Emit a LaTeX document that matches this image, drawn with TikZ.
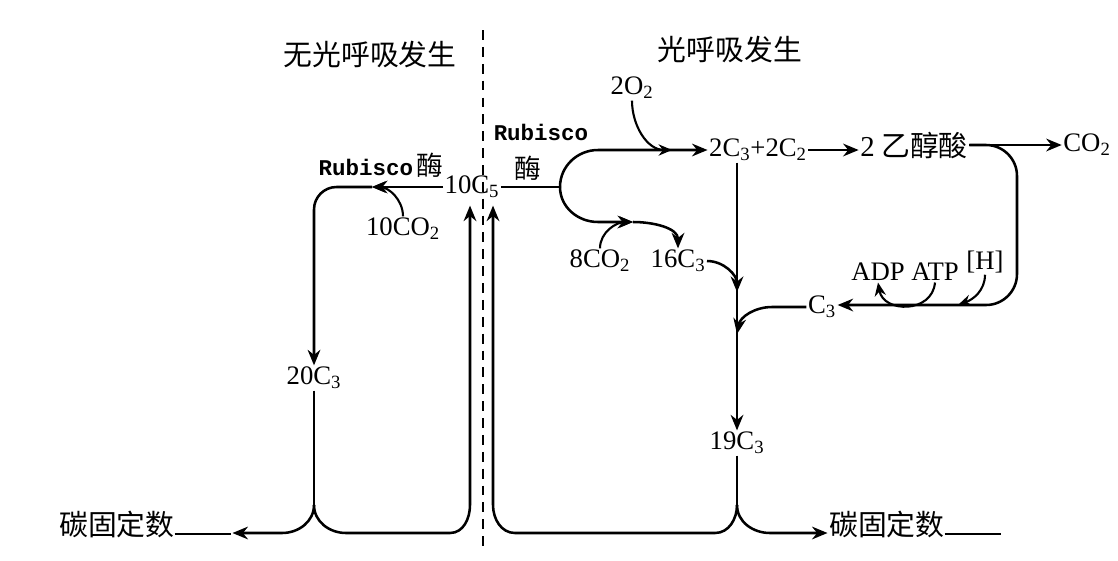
\documentclass[tikz,border=0pt]{standalone}
\usepackage{fontspec}
\setmainfont{Liberation Serif}
\newfontfamily\cjk{Noto Sans CJK SC}
\newfontfamily\rubfont{Liberation Mono}
\usetikzlibrary{arrows.meta,calc}

\newcommand{\csub}[1]{\textsubscript{#1}}

\begin{document}
\begin{tikzpicture}[
  x=0.025cm, y=-0.025cm,
  font=\fontsize{19}{21}\selectfont,
  chem/.style={inner sep=1pt},
  zh/.style={inner sep=1pt, font=\cjk\fontsize{20.5}{23}\selectfont},
  enz/.style={inner sep=1pt, font=\rubfont\bfseries\fontsize{16}{18}\selectfont},
  line/.style={draw=black, line width=1.8pt},
  flow/.style={line, -{Stealth[length=11pt,width=9pt]}},
  feed/.style={draw=black, line width=1.5pt, -{Stealth[length=9.5pt,width=8pt]}}
]
\useasboundingbox (0,0) rectangle (1118,560);
% dividing line
\draw[line width=1.8pt, dash pattern=on 7pt off 5pt] (483,30) -- (483,552);

% headings
\node[zh] (nolight) at (370,55) {无光呼吸发生};
\node[zh] (light) at (730,50) {光呼吸发生};

% labels
\node[enz] (enzL) at (381,165) {Rubisco\,{\cjk\mdseries\fontsize{19}{21}\selectfont 酶}};
\node[chem] (c5) at (472,187) {10C\csub{5}};
\node[chem] (co2a) at (403,229) {10CO\csub{2}};
\node[chem] (c20) at (314,378) {20C\csub{3}};
\node[zh] (fixL) at (145,524) {碳固定数\rule{40pt}{1.1pt}};
\node[enz] (enzR) at (541,132) {Rubisco};
\node[zh] (enzRb) at (528,168) {\fontsize{19}{21}\selectfont 酶};
\node[chem] (o2) at (632,88) {2O\csub{2}};
\node[chem] (c3c2) at (758,150) {2C\csub{3}+2C\csub{2}};
\node[zh] (glyc) at (914,145) {{\rmfamily 2} 乙醇酸};
\node[chem] (co2out) at (1087,145) {CO\csub{2}};
\node[chem] (co2b) at (600,261) {8CO\csub{2}};
\node[chem] (c16) at (678,261) {16C\csub{3}};
\node[chem] (adp) at (878,272) {ADP};
\node[chem] (atp) at (935,272) {ATP};
\node[chem] (hyd) at (985,262) {[H]};
\node[chem] (c3r) at (822,307) {C\csub{3}};
\node[chem] (c19) at (737,443) {19C\csub{3}};
\node[zh] (fixR) at (915,524) {碳固定数\rule{40pt}{1.1pt}};

% junctions
\coordinate (fixA) at (372,187);
\coordinate (jL) at (314,505);
\coordinate (jR) at (737,505);
\coordinate (split) at (560,187);
\coordinate (mid8) at (633,222);
\coordinate (mid2) at (672,150);
\coordinate (in16) at (737,292);
\coordinate (inC3) at (737,334);
\coordinate (hin) at (958,305);

% no photorespiration
\draw[flow] (c5.west |- fixA) -- (fixA);
\draw[flow, rounded corners=16] (fixA) -- (c20.north |- fixA) -- (c20.north);
\draw[feed] (co2a.north) to[out=90,in=0] (fixA);
\draw[line] (c20.south) -- (jL);
\draw[flow] (jL) to[out=-90,in=0] (282,533) -- (fixL.east |- 0,533);
\draw[flow] (jL) to[out=-90,in=180] (346,533) -- (450,533) to[out=0,in=-90] (470,505) -- ($(c5.south)+(-2,6)$);

% photorespiration
\draw[line] (c5.east |- split) -- (split);
\draw[flow] (split) to[out=90,in=180] (598,150) -- (c3c2.west);
\draw[feed] (o2.south) to[out=-90,in=180] (mid2);
\draw[flow] (split) to[out=-90,in=180] (598,222) -- (mid8);
\draw[flow] (mid8) to[out=0,in=90] (c16.north);
\draw[feed] (co2b.north) to[out=90,in=180] (mid8);
\draw[flow] (c3c2.east) -- (c3c2.east -| glyc.west);
\draw[flow] (glyc.east) -- (co2out.west);
\draw[flow, rounded corners=22] (glyc.east) -- (1017,145) -- (1017,305) -- (c3r.east |- 0,305);
\draw[feed] (hyd.south) to[out=-90,in=20] (hin);
\draw[feed] (atp.south) to[out=-95,in=-80,looseness=1.4] (adp.south);
\draw[flow] (c3r.west) -- (772,307) to[out=180,in=80] (inC3);
\draw[flow] (c16.east) to[out=0,in=90] (in16);
\draw[flow] (c3c2.south -| c19.north) -- (c19.north);
\draw[line] (c19.south) -- (jR);
\draw[flow] (jR) to[out=-90,in=0] (715,533) -- (515,533) to[out=180,in=-90] (493,505) -- ($(c5.south)+(21,6)$);
\draw[flow] (jR) to[out=-90,in=180] (770,533) -- (fixR.west |- 0,533);
\end{tikzpicture}
\end{document}
